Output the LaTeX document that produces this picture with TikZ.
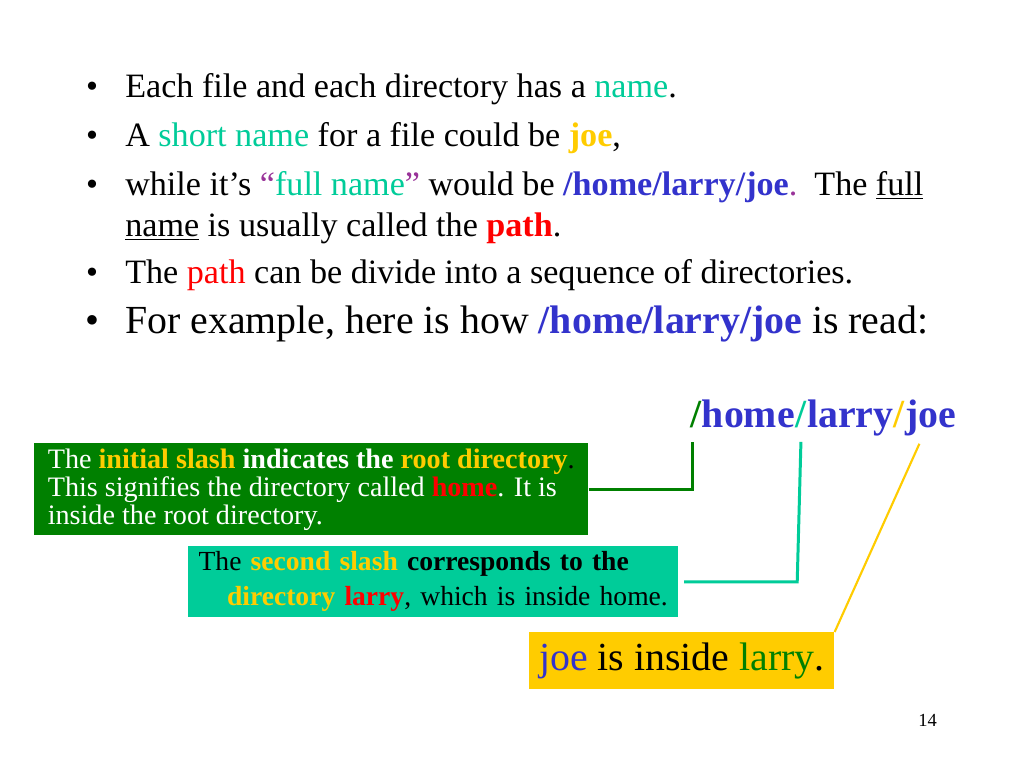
\documentclass[tikz,border=0pt]{standalone}
\usepackage{fontspec}
\setmainfont{Liberation Serif}
\usetikzlibrary{positioning}
\definecolor{nameteal}{HTML}{00CC99}
\definecolor{joegold}{HTML}{FFCC00}
\definecolor{quotepurple}{HTML}{993399}
\definecolor{pathblue}{HTML}{3333CC}
\definecolor{dkgreen}{HTML}{008000}
\definecolor{boxteal}{HTML}{00CC99}
\tikzset{
  dot/.style={anchor=base, inner sep=0pt, font=\fontsize{24}{28.8}\selectfont},
  item/.style={anchor=base west, inner sep=0pt, font=\fontsize{24}{28.8}\selectfont},
  bigitem/.style={item, font=\fontsize{28}{32}\selectfont},
  pathpart/.style={anchor=base west, inner sep=0pt, font=\fontsize{28}{32}\selectfont\bfseries},
  notebox/.style={anchor=north west, align=left, inner ysep=0pt},
  link/.style={line width=2.1pt},
}
\begin{document}
\begin{tikzpicture}[x=0.703125pt,y=-0.703125pt]
  \useasboundingbox[fill=white] (0,0) rectangle (1024,768);

  % bullet list
  \node[dot] (b1) at (92,98) {•};
  \node[item] (t1) at (125,98) {Each file and each directory has a \textcolor{nameteal}{name}.};
  \node[dot] (b2) at (92,147) {•};
  \node[item] (t2) at (125,147) {A \textcolor{nameteal}{short name} for a file could be \textcolor{joegold}{\textbf{joe}},};
  \node[dot] (b3) at (92,196) {•};
  \node[item] (t3) at (125,196) {while it’s \textcolor{quotepurple}{“}\textcolor{nameteal}{full name}\textcolor{quotepurple}{”} would be \textcolor{pathblue}{\textbf{/home/larry/joe}}\textcolor{quotepurple}{.}\ \ The \underline{full}};
  \node[item] (t3b) at (125,237) {\underline{name} is usually called the \textcolor{red}{\textbf{path}}.};
  \node[dot] (b4) at (92,284) {•};
  \node[item] (t4) at (125,284) {The \textcolor{red}{path} can be divide into a sequence of directories.};
  \node[dot, font=\fontsize{28}{32}\selectfont] (b5) at (92,333) {•};
  \node[bigitem] (t5) at (125,333) {For example, here is how \textcolor{pathblue}{\textbf{/home/larry/joe}} is read:};

  % the path, piece by piece
  \node[pathpart, text=dkgreen] (slashA) at (690,427) {/};
  \node[pathpart, text=pathblue] (home) at (slashA.base east) {home};
  \node[pathpart, text=nameteal] (slashB) at (home.base east) {/};
  \node[pathpart, text=pathblue] (larry) at (slashB.base east) {larry};
  \node[pathpart, text=joegold] (slashC) at (larry.base east) {/};
  \node[pathpart, text=pathblue] (joe) at (slashC.base east) {joe};
  \coordinate (endA) at ([xshift=-2pt,yshift=-10pt]slashA.south);
  \coordinate (endB) at ([yshift=-10pt]slashB.south);
  \coordinate (endC) at ([xshift=10pt,yshift=-5.6pt]joe.south west);

  % notes
  \node[notebox, fill=dkgreen, text=white, minimum width=389.5pt, minimum height=64.7pt,
        inner xsep=5.75pt, font=\fontsize{19.8}{19.7}\selectfont] (rootbox) at (34,443)
    {The \textcolor{joegold}{\textbf{initial slash}} \textbf{indicates the} \textcolor{joegold}{\textbf{root directory}}\textcolor{black}{.}\\
     This signifies the directory called \textcolor{red}{\textbf{home}}. It is\\
     inside the root directory.};
  \node[notebox, fill=boxteal, minimum width=344.5pt, minimum height=49.9pt,
        text width=334pt, inner xsep=5.25pt, font=\fontsize{19.4}{24.6}\selectfont] (larrybox) at (188,546)
    {\hspace*{2pt}The \textcolor{joegold}{\textbf{second slash}} \textbf{corresponds to the}\\
     \hspace*{22pt}\textcolor{joegold}{\textbf{directory}} \textcolor{red}{\textbf{larry}}, which is inside home.};
  \node[anchor=north west, fill=joegold, minimum width=214.5pt, minimum height=40pt, inner sep=0pt,
        font=\fontsize{28}{32}\selectfont] (joebox) at (529,632)
    {\textcolor{pathblue}{joe} is inside \textcolor{dkgreen}{larry}.};

  % connectors
  \draw[link, dkgreen] (rootbox.east) -| (endA);
  \draw[link, nameteal] ([xshift=4pt]larrybox.east) -- ++(113,0) -- (endB);
  \draw[link, joegold, line width=1.5pt] (joebox.north east) -- (endC);

  \node[anchor=base west, inner sep=0pt, font=\fontsize{13}{15}\selectfont] (page) at (918,726) {14};
\end{tikzpicture}
\end{document}
